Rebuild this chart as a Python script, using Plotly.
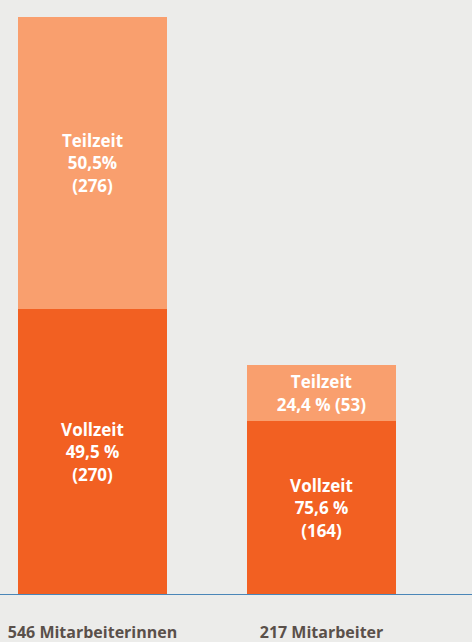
import plotly.graph_objects as go

categories = ["546 Mitarbeiterinnen", "217 Mitarbeiter"]
vollzeit = [270, 164]
teilzeit = [276, 53]
vollzeit_labels = ["Vollzeit<br>49,5 %<br>(270)", "Vollzeit<br>75,6 %<br>(164)"]
teilzeit_labels = ["Teilzeit<br>50,5%<br>(276)", "Teilzeit<br>24,4 % (53)"]

FONT = "Open Sans, sans-serif"
C_VOLL = "#F26022"
C_TEIL = "#F99F6E"
BG = "#ECECEA"

fig = go.Figure()
fig.add_trace(go.Bar(
    x=categories, y=vollzeit, text=vollzeit_labels, name="Vollzeit",
    marker=dict(color=C_VOLL, line=dict(width=0)),
    textposition="inside", insidetextanchor="middle", textangle=0,
    textfont=dict(family=FONT, size=17, color="white", weight="bold"),
    width=0.65, hoverinfo="skip",
))
fig.add_trace(go.Bar(
    x=categories, y=teilzeit, text=teilzeit_labels, name="Teilzeit",
    marker=dict(color=C_TEIL, line=dict(width=0)),
    textposition="inside", insidetextanchor="middle", textangle=0,
    textfont=dict(family=FONT, size=17, color="white", weight="bold"),
    width=0.65, hoverinfo="skip",
))

fig.add_shape(type="line", xref="paper", yref="y", x0=0, x1=1, y0=0, y1=0,
              line=dict(color="#4A86B8", width=2))

fig.update_layout(
    barmode="stack",
    width=472, height=642,
    margin=dict(l=0, r=0, t=0, b=47, autoexpand=False),
    paper_bgcolor=BG, plot_bgcolor=BG,
    showlegend=False,
    bargap=0,
    uniformtext=dict(minsize=14, mode="show"),
    xaxis=dict(
        type="category", range=[-0.404, 1.657], automargin=False,
        showgrid=False, zeroline=False, showline=False, ticks="",
        tickfont=dict(family=FONT, size=16, color="#5A504A", weight="bold"),
        ticklabelstandoff=26,
    ),
    yaxis=dict(range=[0, 562.1], visible=False, showgrid=False, zeroline=False,
               automargin=False),
)

fig.write_html(
    "out.html",
    config={"displayModeBar": False},
    post_script="document.body.style.margin='0';document.body.style.background='#ECECEA';",
)
